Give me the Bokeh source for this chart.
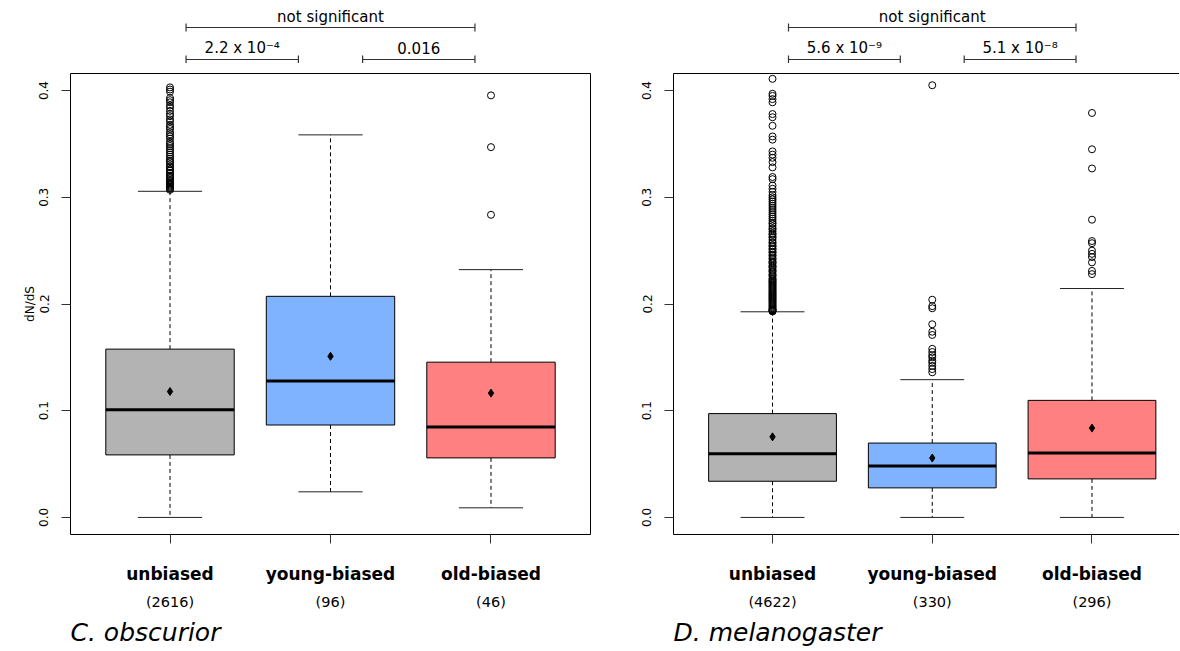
from bokeh.plotting import figure
from bokeh.models import Range1d, FixedTicker, LinearAxis, Title
from bokeh.layouts import row, column
from bokeh.embed import file_html
from bokeh.resources import INLINE
from bokeh.core.properties import value

FONT = "DejaVu Sans"

# ---------------- data ----------------
groups = ["unbiased", "young-biased", "old-biased"]
box_colors = ["#B3B3B3", "#80B3FF", "#FF8080"]
y_ticks = [0.0, 0.1, 0.2, 0.3, 0.4]
y_tick_labels = ["0.0", "0.1", "0.2", "0.3", "0.4"]
y_title = "dN/dS"

# C. obscurior
co_species = "C. obscurior"
co_counts = ["(2616)", "(96)", "(46)"]
co_lower = [0.000, 0.024, 0.009]
co_q1 = [0.0586, 0.0866, 0.0558]
co_median = [0.1010, 0.1278, 0.0848]
co_q3 = [0.1577, 0.2072, 0.1455]
co_upper = [0.3056, 0.3585, 0.2322]
co_mean = [0.1180, 0.1510, 0.1165]
co_out_unbiased = [0.307, 0.308, 0.309, 0.310, 0.311, 0.312, 0.313, 0.314, 0.315,
                   0.316, 0.318, 0.319, 0.320, 0.322, 0.323, 0.325, 0.326, 0.328,
                   0.329, 0.331, 0.333, 0.334, 0.336, 0.338, 0.340, 0.342, 0.344,
                   0.346, 0.348, 0.350, 0.352, 0.355, 0.357, 0.359, 0.361, 0.364,
                   0.366, 0.368, 0.371, 0.373, 0.376, 0.378, 0.381, 0.384, 0.386,
                   0.389, 0.391, 0.393, 0.399, 0.401, 0.403]
co_out_young = []
co_out_old = [0.3955, 0.347, 0.2836]
co_tests = ["2.2 x 10\u207b\u2074", "0.016", "not significant"]

# D. melanogaster
dm_species = "D. melanogaster"
dm_counts = ["(4622)", "(330)", "(296)"]
dm_lower = [0.0, 0.0, 0.0]
dm_q1 = [0.0339, 0.0277, 0.0361]
dm_median = [0.0597, 0.0482, 0.0603]
dm_q3 = [0.0973, 0.0697, 0.1097]
dm_upper = [0.1927, 0.1291, 0.2145]
dm_mean = [0.0755, 0.0557, 0.0837]
dm_out_unbiased = [0.193, 0.1935, 0.194, 0.1945, 0.195, 0.196, 0.197, 0.198, 0.199,
                   0.200, 0.201, 0.202, 0.203, 0.204, 0.205, 0.206, 0.207, 0.208,
                   0.209, 0.210, 0.211, 0.212, 0.213, 0.214, 0.215, 0.216, 0.217,
                   0.218, 0.219, 0.220, 0.221, 0.222, 0.223, 0.224, 0.226, 0.227,
                   0.228, 0.230, 0.231, 0.232, 0.234, 0.235, 0.236, 0.238, 0.239,
                   0.240, 0.242, 0.243, 0.245, 0.246, 0.248, 0.249, 0.251, 0.252,
                   0.254, 0.255, 0.257, 0.258, 0.260, 0.262, 0.263, 0.265, 0.266,
                   0.268, 0.270, 0.271, 0.273, 0.275, 0.276, 0.278, 0.280, 0.282,
                   0.284, 0.286, 0.288, 0.290, 0.292, 0.294, 0.296, 0.298, 0.300,
                   0.302, 0.305, 0.308, 0.311, 0.317, 0.319, 0.328, 0.333, 0.337,
                   0.340, 0.343, 0.354, 0.357, 0.367, 0.375, 0.378, 0.389, 0.392,
                   0.395, 0.397, 0.411]
dm_out_young = [0.405, 0.204, 0.198, 0.196, 0.181, 0.174, 0.171, 0.158, 0.155,
                0.152, 0.150, 0.147, 0.145, 0.142, 0.139, 0.136]
dm_out_old = [0.379, 0.345, 0.327, 0.279, 0.259, 0.257, 0.250, 0.247, 0.244,
              0.239, 0.231, 0.228]
dm_tests = ["5.6 x 10\u207b\u2079", "5.1 x 10\u207b\u2078", "not significant"]

# ---------------- layout constants ----------------
X_START = 0.38
Y_RANGE = (-0.016, 0.416)
BOX_W = 0.8
CAP_W = 0.4
# comparison brackets (x in category units, y in px from top of bracket strip)
BR_X0 = [1.1, 2.2, 1.1]
BR_X1 = [1.8, 2.9, 2.9]
BR_LINE_Y = [59, 59, 27]
BR_TEXT_Y = [47, 47, 16]
BR_TICK = 4


def build_panel(species, counts, lower, q1, median, q3, upper, mean, outliers, tests,
                width, bracket_h, main_h, min_left, min_right, min_bottom, x_end,
                show_ylabel, outline, cat_standoff):
    xs = list(range(1, len(groups) + 1))
    p = figure(width=width, height=main_h,
               x_range=Range1d(X_START, x_end), y_range=Range1d(*Y_RANGE),
               output_backend="svg", toolbar_location=None,
               min_border_left=min_left, min_border_right=min_right,
               min_border_top=10, min_border_bottom=min_bottom,
               background_fill_color="white", border_fill_color="white")
    p.grid.visible = False
    p.outline_line_color = "black" if outline else None
    p.outline_line_width = 1

    # boxes
    p.vbar(x=xs, width=BOX_W, bottom=q1, top=q3, fill_color=box_colors,
           line_color="black", line_width=1)
    # whiskers
    p.segment(x0=xs, y0=q3, x1=xs, y1=upper, line_color="black",
              line_width=1, line_dash="4 3")
    p.segment(x0=xs, y0=q1, x1=xs, y1=lower, line_color="black",
              line_width=1, line_dash="4 3")
    # caps
    p.segment(x0=[x - CAP_W / 2 for x in xs], y0=upper,
              x1=[x + CAP_W / 2 for x in xs], y1=upper, line_color="#222222", line_width=1)
    p.segment(x0=[x - CAP_W / 2 for x in xs], y0=lower,
              x1=[x + CAP_W / 2 for x in xs], y1=lower, line_color="#222222", line_width=1)
    # medians
    p.segment(x0=[x - BOX_W / 2 for x in xs], y0=median,
              x1=[x + BOX_W / 2 for x in xs], y1=median, line_color="black", line_width=3)
    # means
    p.scatter(x=xs, y=mean, marker="diamond", size=8, fill_color="black", line_color="black")
    # outliers
    ox, oy = [], []
    for x, vals in zip(xs, outliers):
        ox += [x] * len(vals)
        oy += vals
    p.scatter(x=ox, y=oy, marker="circle", size=7, fill_color=None,
              line_color="black", line_width=1)

    # x axis (category names)
    xa = p.xaxis[0]
    xa.ticker = FixedTicker(ticks=xs)
    xa.major_label_overrides = {x: g for x, g in zip(xs, groups)}
    xa.major_label_text_font = FONT
    xa.major_label_text_font_style = "bold"
    xa.major_label_text_font_size = "17px"
    xa.major_label_text_color = "black"
    xa.major_tick_out = 9
    xa.major_tick_in = 0
    xa.minor_tick_line_color = None
    xa.major_tick_line_color = "#333333"
    xa.major_label_standoff = cat_standoff
    xa.axis_line_color = None if outline else "black"

    # counts axis
    ca = LinearAxis(ticker=FixedTicker(ticks=xs),
                    major_label_overrides={x: c for x, c in zip(xs, counts)},
                    major_tick_out=0, major_tick_in=0,
                    major_tick_line_color=None, minor_tick_line_color=None,
                    axis_line_color=None, major_label_standoff=7,
                    major_label_text_font=FONT, major_label_text_font_size="14.5px",
                    major_label_text_color="black")
    p.add_layout(ca, "below")

    # y axis
    ya = p.yaxis[0]
    ya.ticker = FixedTicker(ticks=y_ticks)
    ya.major_label_overrides = {t: l for t, l in zip(y_ticks, y_tick_labels)}
    ya.major_label_orientation = "vertical"
    ya.major_label_text_font = FONT
    ya.major_label_text_font_size = "12px"
    ya.major_label_text_color = "black"
    ya.major_tick_out = 9
    ya.major_tick_in = 0
    ya.minor_tick_line_color = None
    ya.major_tick_line_color = "#333333"
    ya.major_label_standoff = 13
    ya.axis_line_color = None if outline else "black"
    if show_ylabel:
        ya.axis_label = y_title
        ya.axis_label_text_font = FONT
        ya.axis_label_text_font_size = "12px"
        ya.axis_label_text_font_style = "normal"
        ya.axis_label_text_color = "black"
        ya.axis_label_standoff = 0

    if not outline:
        top = LinearAxis(ticker=FixedTicker(ticks=[]), major_tick_out=0, major_tick_in=0,
                         minor_tick_out=0, minor_tick_in=0, major_label_standoff=0,
                         axis_line_color="black", major_tick_line_color=None,
                         minor_tick_line_color=None)
        p.add_layout(top, "above")

    p.add_layout(Title(text=species, align="left", text_font=FONT,
                       text_font_style="italic", text_font_size="25px",
                       text_color="black", standoff=7), "below")

    # comparison brackets strip
    b = figure(width=width, height=bracket_h, x_range=p.x_range,
               y_range=Range1d(bracket_h, 0),
               output_backend="svg", toolbar_location=None,
               min_border_left=min_left, min_border_right=min_right,
               min_border_top=0, min_border_bottom=0,
               x_axis_location=None, y_axis_location=None,
               outline_line_color=None, background_fill_color="white",
               border_fill_color="white")
    b.grid.visible = False
    b.segment(x0=BR_X0, y0=BR_LINE_Y, x1=BR_X1, y1=BR_LINE_Y,
              line_color="#333333", line_width=1.2)
    b.segment(x0=BR_X0 + BR_X1, y0=[y - BR_TICK for y in BR_LINE_Y] * 2,
              x1=BR_X0 + BR_X1, y1=[y + BR_TICK for y in BR_LINE_Y] * 2,
              line_color="#333333", line_width=1.2)
    b.text(x=[(a + c) / 2 for a, c in zip(BR_X0, BR_X1)], y=BR_TEXT_Y, text=tests,
           text_align="center", text_baseline="middle",
           text_font=value(FONT), text_font_size="15px", text_color="black")
    return column(b, p)


left = build_panel(co_species, co_counts, co_lower, co_q1, co_median, co_q3, co_upper,
                   co_mean, [co_out_unbiased, co_out_young, co_out_old], co_tests,
                   width=600, bracket_h=63, main_h=587, min_left=70, min_right=10,
                   min_bottom=115, x_end=3.62, show_ylabel=True, outline=True,
                   cat_standoff=20)
right = build_panel(dm_species, dm_counts, dm_lower, dm_q1, dm_median, dm_q3, dm_upper,
                    dm_mean, [dm_out_unbiased, dm_out_young, dm_out_old], dm_tests,
                    width=579, bracket_h=63, main_h=587, min_left=73, min_right=0,
                    min_bottom=115, x_end=3.548, show_ylabel=False, outline=False,
                    cat_standoff=20)

layout = row(left, right)
open("out.html", "w").write(file_html(layout, INLINE))
